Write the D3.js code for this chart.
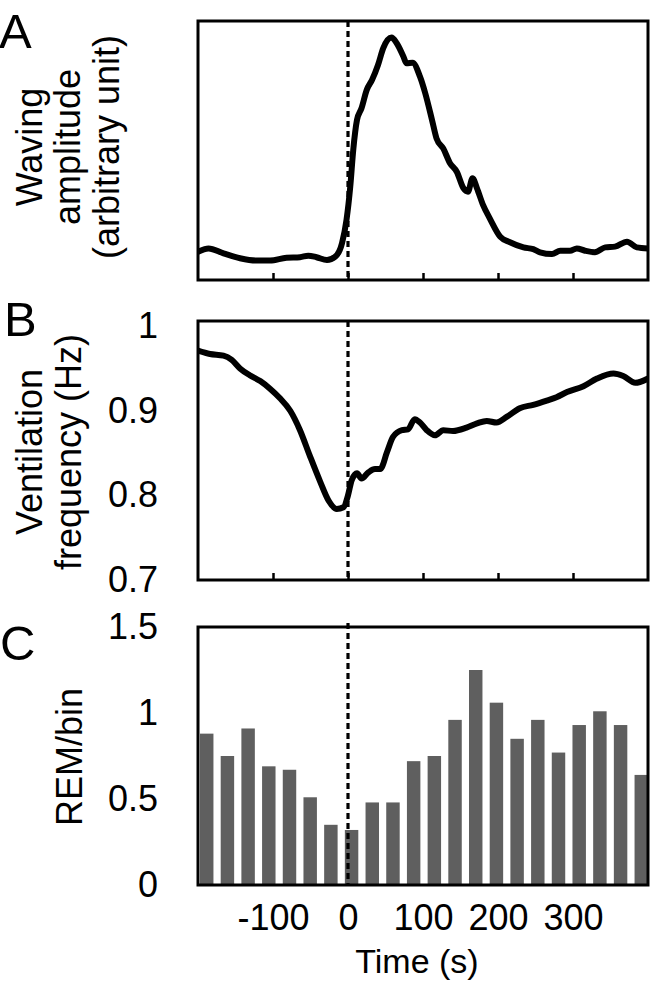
<!DOCTYPE html>
<html>
<head>
<meta charset="utf-8">
<script src="https://cdnjs.cloudflare.com/ajax/libs/d3/7.8.5/d3.min.js"></script>
<style>
body { margin: 0; background: #fff; }
svg text { font-family: "Liberation Sans", Arial, sans-serif; fill: #000; }
</style>
</head>
<body>
<svg id="fig" width="651" height="987"></svg>
<script>
// panel A - waving amplitude (arbitrary unit, 0..1)
var ampTime = [-200, -186, -166, -144, -122, -104, -82, -64, -53, -42, -28, -17, -8, -2, 3, 7, 12, 18, 25, 32,
    40, 47, 58, 65, 74, 78, 86, 96, 103, 112, 118, 127, 136, 145, 154, 160, 166, 172, 180, 189,
    203, 216, 234, 247, 256, 272, 283, 296, 305, 316, 329, 343, 356, 372, 385, 400];
var ampValue = [0.109, 0.122, 0.103, 0.084, 0.075, 0.075, 0.086, 0.088, 0.094, 0.088, 0.077, 0.090, 0.142, 0.232, 0.360, 0.502, 0.618, 0.663, 0.734, 0.772,
    0.830, 0.895, 0.936, 0.914, 0.862, 0.837, 0.839, 0.785, 0.721, 0.618, 0.547, 0.508, 0.451, 0.418, 0.354, 0.341, 0.393, 0.354, 0.290, 0.238,
    0.167, 0.146, 0.126, 0.119, 0.107, 0.100, 0.113, 0.113, 0.122, 0.113, 0.107, 0.126, 0.129, 0.148, 0.126, 0.122];

// panel B - ventilation frequency (Hz)
var ventTime = [-200, -184, -166, -155, -144, -131, -117, -104, -91, -77, -64, -51, -37, -26, -15, -6, 0, 5, 12, 18,
    27, 36, 43, 52, 60, 72, 80, 89, 96, 105, 116, 127, 140, 158, 172, 185, 198, 212, 229, 247,
    265, 278, 292, 314, 332, 354, 367, 383, 400];
var ventValue = [0.971, 0.967, 0.965, 0.960, 0.950, 0.942, 0.935, 0.926, 0.915, 0.900, 0.877, 0.847, 0.816, 0.794, 0.784, 0.786, 0.800, 0.818, 0.826, 0.820,
    0.827, 0.831, 0.831, 0.851, 0.869, 0.877, 0.878, 0.890, 0.886, 0.877, 0.871, 0.877, 0.876, 0.880, 0.885, 0.888, 0.886, 0.893, 0.903, 0.907,
    0.912, 0.916, 0.922, 0.929, 0.938, 0.944, 0.941, 0.933, 0.938];

// panel C - REM per bin, 22 bins
var remValue = [0.88, 0.75, 0.91, 0.69, 0.67, 0.51, 0.35, 0.32, 0.48, 0.48, 0.72, 0.75,
    0.96, 1.25, 1.06, 0.85, 0.96, 0.77, 0.93, 1.01, 0.93, 0.64];

var timeTicks = [-100, 0, 100, 200, 300];
var ventTicks = [0.7, 0.8, 0.9, 1];
var remTicks = [0, 0.5, 1, 1.5];

var svg = d3.select("#fig");
svg.append("rect").attr("width", 651).attr("height", 987).attr("fill", "#fff");

var left = 198, plotW = 450;
var x = d3.scaleLinear().domain([-200, 400]).range([0, plotW]);
// plain hyphen for negatives, like the original
var fmt = function(d) { return String(d); };
var tickFont = "36px";

function makePanel(top, h, id) {
    var g = svg.append("g").attr("transform", "translate(" + left + "," + top + ")");
    g.append("clipPath").attr("id", id)
      .append("rect").attr("width", plotW).attr("height", h);
    return g;
}

function frame(g, h) {
    g.append("rect")
        .attr("width", plotW).attr("height", h)
        .attr("fill", "none").attr("stroke", "#000").attr("stroke-width", 3);
}

function dashed(g, y0, h) {
    g.append("line")
        .attr("x1", x(0)).attr("x2", x(0))
        .attr("y1", y0).attr("y2", h)
        .attr("stroke", "#000").attr("stroke-width", 3.2)
        .attr("stroke-dasharray", "6,4");
}

function innerTicks(g, h) {
    var ax = g.append("g")
        .attr("transform", "translate(0," + h + ")")
        .call(d3.axisBottom(x).tickValues(timeTicks).tickSize(-7).tickFormat(""));
    ax.select(".domain").remove();
    ax.selectAll("line").attr("stroke", "#000").attr("stroke-width", 2.5);
}

function yTitle(lines, cy) {
    lines.forEach(function(t) {
        svg.append("text")
            .attr("transform", "translate(" + t.x + "," + cy + ")rotate(-90)")
            .attr("text-anchor", "middle")
            .style("font-size", "36px")
            .text(t.s);
    });
}

function letter(s, lx, y) {
    svg.append("text").attr("x", lx).attr("y", y)
        .style("font-size", "49px").text(s);
}

// ---- A ----
var hA = 259;
var gA = makePanel(21, hA, "clipA");
var yA = d3.scaleLinear().domain([0, 1]).range([hA, 0]);
innerTicks(gA, hA);
dashed(gA, 0, hA);
gA.append("path")
    .datum(ampTime.map(function(t, i) { return [t, ampValue[i]]; }))
    .attr("clip-path", "url(#clipA)")
    .attr("fill", "none").attr("stroke", "#000").attr("stroke-width", 6)
    .attr("stroke-linejoin", "round").attr("stroke-linecap", "round")
    .attr("d", d3.line()
        .x(function(d) { return x(d[0]); })
        .y(function(d) { return yA(d[1]); })
        .curve(d3.curveMonotoneX));
frame(gA, hA);
letter("A", -1, 48);
yTitle([{x: 42, s: "Waving"}, {x: 80, s: "amplitude"}, {x: 119, s: "(arbitrary unit)"}], 147);

// ---- B ----
var hB = 259;
var gB = makePanel(321, hB, "clipB");
var yB = d3.scaleLinear().domain([0.7, 1.006]).range([hB, 0]);
innerTicks(gB, hB);
dashed(gB, 0, hB);
gB.append("path")
    .datum(ventTime.map(function(t, i) { return [t, ventValue[i]]; }))
    .attr("clip-path", "url(#clipB)")
    .attr("fill", "none").attr("stroke", "#000").attr("stroke-width", 6)
    .attr("stroke-linejoin", "round").attr("stroke-linecap", "round")
    .attr("d", d3.line()
        .x(function(d) { return x(d[0]); })
        .y(function(d) { return yB(d[1]); })
        .curve(d3.curveMonotoneX));
frame(gB, hB);
var axB = gB.append("g")
    .call(d3.axisLeft(yB).tickValues(ventTicks).tickSize(0).tickPadding(40).tickFormat(fmt));
axB.select(".domain").remove();
axB.selectAll("text").style("font-size", tickFont);
letter("B", 4, 336);
yTitle([{x: 42, s: "Ventilation"}, {x: 81, s: "frequency (Hz)"}], 452);

// ---- C ----
var hC = 258;
var gC = makePanel(627, hC, "clipC");
var yC = d3.scaleLinear().domain([0, 1.5]).range([hC, 0]);
var band = d3.scaleBand()
    .domain(d3.range(remValue.length))
    .range([2, plotW])
    .paddingInner(0.35).paddingOuter(0);
gC.selectAll("rect.bar")
    .data(remValue)
    .enter()
    .append("rect")
        .attr("class", "bar")
        .attr("x", function(d, i) { return band(i); })
        .attr("y", function(d) { return yC(d); })
        .attr("width", band.bandwidth())
        .attr("height", function(d) { return hC - yC(d); })
        .attr("fill", "#5f5f5f");
dashed(gC, -4, hC);
frame(gC, hC);
var axCy = gC.append("g")
    .call(d3.axisLeft(yC).tickValues(remTicks).tickSize(0).tickPadding(40).tickFormat(fmt));
axCy.select(".domain").remove();
axCy.selectAll("text").style("font-size", tickFont);
var axCx = gC.append("g")
    .attr("transform", "translate(0," + hC + ")")
    .call(d3.axisBottom(x).tickValues(timeTicks).tickSize(0).tickFormat(fmt));
axCx.select(".domain").remove();
axCx.selectAll("text").attr("y", 45).attr("dy", 0).style("font-size", tickFont);
letter("C", 0, 660);
yTitle([{x: 82, s: "REM/bin"}], 757);

svg.append("text")
    .attr("x", 417).attr("y", 973)
    .attr("text-anchor", "middle")
    .style("font-size", "34px")
    .text("Time (s)");
</script>
</body>
</html>
